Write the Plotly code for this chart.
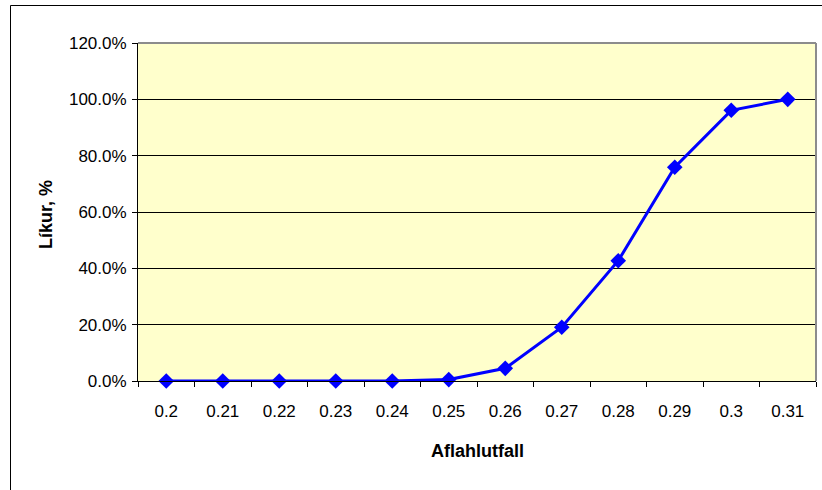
import plotly.graph_objects as go

# Data
categories = ["0.2", "0.21", "0.22", "0.23", "0.24", "0.25",
              "0.26", "0.27", "0.28", "0.29", "0.3", "0.31"]
probability = [0.0, 0.0, 0.0, 0.0, 0.0, 0.005,
               0.045, 0.191, 0.427, 0.759, 0.961, 1.0]
y_tick_vals = [0.0, 0.2, 0.4, 0.6, 0.8, 1.0, 1.2]
x_title = "Aflahlutfall"
y_title = "Líkur, %"

FONT = "Liberation Sans, Arial, sans-serif"
W, H = 822, 490
L, R, T, B = 138, 816, 43, 381  # plot area in pixels
pw, ph = R - L, B - T

def px_x(p):
    return (p - L) / pw

def px_y(p):
    return (B - p) / ph

fig = go.Figure(go.Scatter(
    x=categories, y=probability, mode="lines+markers",
    line=dict(color="#0000FF", width=3),
    marker=dict(symbol="diamond", size=12, color="#0000FF"),
    cliponaxis=False, showlegend=False,
))

fig.update_layout(
    width=W, height=H,
    margin=dict(l=L, r=W - R, t=T, b=H - B, pad=0),
    paper_bgcolor="white", plot_bgcolor="#FFFFCC",
    font=dict(family=FONT, size=17, color="black"),
    xaxis=dict(
        type="category", range=[-0.5, 11.5], tickson="boundaries",
        ticks="outside", ticklen=5, tickcolor="black", tickwidth=1,
        showline=True, linecolor="black", linewidth=1,
        showgrid=False, zeroline=False, ticklabelstandoff=15,
        tickfont=dict(family=FONT, size=17),
    ),
    yaxis=dict(
        range=[0, 1.2], tickvals=y_tick_vals, tickformat=".1%",
        ticks="outside", ticklen=5, tickcolor="black", tickwidth=1,
        showline=True, linecolor="black", linewidth=1,
        showgrid=True, gridcolor="black", gridwidth=1, zeroline=False,
        ticklabelstandoff=2,
        tickfont=dict(family=FONT, size=17),
    ),
    annotations=[
        dict(text="<b>" + x_title + "</b>", xref="paper", yref="paper",
             x=0.5, y=px_y(451), xanchor="center", yanchor="middle",
             showarrow=False, font=dict(family=FONT, size=18)),
        dict(text="<b>" + y_title + "</b>", xref="paper", yref="paper",
             x=px_x(46), y=px_y(215), xanchor="center", yanchor="middle",
             textangle=-90, showarrow=False, font=dict(family=FONT, size=18)),
    ],
    shapes=[
        # gray frame top & right of plot area
        dict(type="line", xref="paper", yref="paper", x0=0, x1=1, y0=1, y1=1,
             line=dict(color="#8C8C8C", width=2), layer="above"),
        dict(type="line", xref="paper", yref="paper", x0=1, x1=1, y0=0, y1=1,
             line=dict(color="#8C8C8C", width=2), layer="above"),
        # outer chart border (left and top visible)
        dict(type="line", xref="paper", yref="paper",
             x0=px_x(10.5), x1=px_x(10.5), y0=px_y(H + 5), y1=px_y(5.5),
             line=dict(color="black", width=1)),
        dict(type="line", xref="paper", yref="paper",
             x0=px_x(10.5), x1=px_x(W + 5), y0=px_y(5.5), y1=px_y(5.5),
             line=dict(color="black", width=1)),
    ],
)

fig.write_html(
    "out.html",
    config={"displayModeBar": False},
    post_script="document.body.style.margin='0';document.body.style.overflow='hidden';",
)
